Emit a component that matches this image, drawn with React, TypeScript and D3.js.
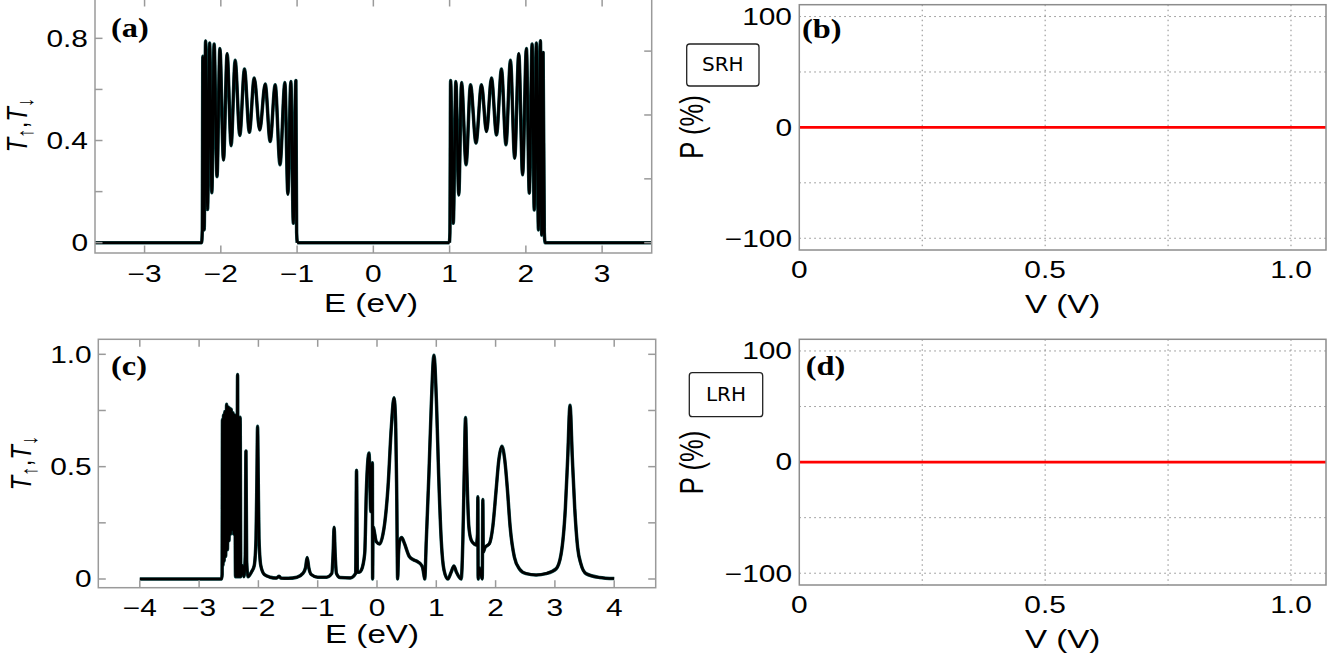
import React from 'react';
import * as d3 from 'd3';

// ---------------- data ----------------
// Panel (a): transmission T(E) (spin up / down coincide)
const bandA_left: [number, number][] = [
  [-3.65, 0], [-2.252, 0], [-2.243, 0.05], [-2.236, 0.73], [-2.218, 0.05], [-2.2, 0.79],
  [-2.174, 0.13], [-2.147, 0.782], [-2.118, 0.196], [-2.088, 0.778], [-2.05, 0.259],
  [-2.012, 0.76], [-1.965, 0.324], [-1.917, 0.74], [-1.865, 0.38], [-1.812, 0.714],
  [-1.751, 0.42], [-1.69, 0.68], [-1.626, 0.432], [-1.562, 0.645], [-1.49, 0.441],
  [-1.418, 0.621], [-1.353, 0.396], [-1.287, 0.618], [-1.224, 0.305], [-1.16, 0.627],
  [-1.121, 0.19], [-1.082, 0.631], [-1.049, 0.076], [-1.016, 0.635], [-1.006, 0.04], [-0.998, 0],
];
const bandA_right: [number, number][] = [
  [0.998, 0], [1.004, 0.04], [1.013, 0.635], [1.048, 0.076], [1.082, 0.631], [1.12, 0.187],
  [1.157, 0.627], [1.216, 0.305], [1.274, 0.618], [1.346, 0.39], [1.418, 0.618],
  [1.484, 0.435], [1.549, 0.645], [1.615, 0.422], [1.68, 0.68], [1.739, 0.383],
  [1.798, 0.714], [1.853, 0.331], [1.907, 0.74], [1.957, 0.266], [2.007, 0.76],
  [2.045, 0.194], [2.082, 0.778], [2.11, 0.128], [2.138, 0.782], [2.165, 0.05],
  [2.191, 0.791], [2.208, 0.03], [2.226, 0.745], [2.242, 0.04], [2.252, 0], [3.65, 0],
];
const gapA: [number, number][] = [[-0.998, 0], [0.998, 0]];

// Panel (c): transmission T(E)
const curveC: [number, number][] = [
  [-4.0, 0], [-2.62, 0], [-2.612, 0.02], [-2.606, 0.71], [-2.598, 0.06], [-2.588, 0.73],
  [-2.578, 0.08], [-2.566, 0.745], [-2.552, 0.1], [-2.536, 0.778], [-2.522, 0.13],
  [-2.508, 0.765], [-2.496, 0.17], [-2.482, 0.76], [-2.47, 0.2], [-2.458, 0.755],
  [-2.444, 0.22], [-2.428, 0.74], [-2.414, 0.2], [-2.4, 0.73], [-2.386, 0.01],
  [-2.374, 0.73], [-2.364, 0.01], [-2.351, 0.91], [-2.342, 0.01], [-2.33, 0.72],
  [-2.32, 0.01], [-2.308, 0.72], [-2.296, 0.01], [-2.27, 0.06], [-2.245, 0.01],
  [-2.222, 0.1], [-2.21, 0.57], [-2.198, 0.08], [-2.175, 0.01], [-2.12, 0.03],
  [-2.07, 0.06], [-2.04, 0.18], [-2.025, 0.45], [-2.014, 0.68], [-2.003, 0.45],
  [-1.99, 0.18], [-1.96, 0.06], [-1.9, 0.02], [-1.8, 0.008], [-1.7, 0.004], [-1.65, 0.012],
  [-1.62, 0.004], [-1.5, 0.003], [-1.35, 0.008], [-1.25, 0.025], [-1.205, 0.05],
  [-1.178, 0.096], [-1.15, 0.05], [-1.11, 0.02], [-1.0, 0.008], [-0.85, 0.008],
  [-0.762, 0.025], [-0.74, 0.114], [-0.723, 0.23], [-0.706, 0.114], [-0.684, 0.025],
  [-0.628, 0.007], [-0.45, 0.005], [-0.36, 0.025], [-0.345, 0.484], [-0.33, 0.03],
  [-0.3, 0.03], [-0.263, 0.04], [-0.207, 0.114], [-0.179, 0.396], [-0.134, 0.561],
  [-0.105, 0.3], [-0.09, 0.4], [-0.078, 0.517], [-0.074, 0.0], [-0.067, 0.233],
  [-0.011, 0.166], [0.045, 0.156], [0.101, 0.2], [0.13, 0.248], [0.186, 0.41],
  [0.242, 0.677], [0.287, 0.807], [0.315, 0.69], [0.332, 0.396], [0.348, 0.0],
  [0.363, 0.114], [0.385, 0.173], [0.416, 0.185], [0.46, 0.16], [0.545, 0.1],
  [0.62, 0.085], [0.685, 0.077], [0.74, 0.065], [0.77, 0.05], [0.79, 0.02], [0.805, 0.0],
  [0.831, 0.17], [0.876, 0.47], [0.915, 0.77], [0.96, 0.996], [1.005, 0.77],
  [1.039, 0.47], [1.084, 0.17], [1.13, 0.04], [1.195, 0.0], [1.25, 0.03], [1.297, 0.058],
  [1.34, 0.03], [1.42, 0.0], [1.448, 0.173], [1.471, 0.47], [1.493, 0.719], [1.516, 0.47],
  [1.549, 0.233], [1.589, 0.173], [1.645, 0.155], [1.673, 0.151], [1.695, 0.2],
  [1.701, 0.366], [1.706, 0.0], [1.725, 0.05], [1.745, 0.03], [1.775, 0.0], [1.785, 0.354],
  [1.792, 0.12], [1.82, 0.14], [1.897, 0.158], [1.953, 0.233], [2.009, 0.396],
  [2.054, 0.529], [2.105, 0.591], [2.155, 0.529], [2.2, 0.396], [2.245, 0.233],
  [2.318, 0.096], [2.402, 0.045], [2.514, 0.024], [2.683, 0.018], [2.851, 0.024],
  [3.02, 0.045], [3.104, 0.11], [3.177, 0.317], [3.216, 0.539], [3.255, 0.773],
  [3.294, 0.539], [3.334, 0.317], [3.384, 0.14], [3.44, 0.066], [3.524, 0.024],
  [3.749, 0.007], [4.0, 0.002],
];

// Panels (b), (d): spin polarization vs bias
const biasV = [0, 0.25, 0.5, 0.75, 1.0, 1.0712];
const polSRH = [0, 0, 0, 0, 0, 0];
const polLRH = [0, 0, 0, 0, 0, 0];

// ticks
const ticksA_x = [-3, -2, -1, 0, 1, 2, 3];
const ticksA_yLeft = [0, 0.2, 0.4, 0.6, 0.8];
const ticksA_yRight = [0, 0.25, 0.5, 0.75];
const labelsA_y = [0, 0.4, 0.8];
const labelTextA_y = ['0', '0.4', '0.8'];

const ticksC_x = [-4, -3, -2, -1, 0, 1, 2, 3, 4];
const ticksC_y = [0, 0.25, 0.5, 0.75, 1.0];
const labelsC_y = [0, 0.5, 1.0];
const labelTextC_y = ['0', '0.5', '1.0'];

const gridP_x = [0.25, 0.5, 0.75, 1.0];
const gridP_y = [-100, -50, 50, 100];
const labelsP_x = [0, 0.5, 1.0];
const labelTextP_x = ['0', '0.5', '1.0'];
const labelsP_y = [-100, 0, 100];
const labelTextP_y = ['\u2212100', '0', '100'];

// ---------------- styling ----------------
const SX = 1.3;
const SANS = "'Liberation Sans', Arial, Helvetica, sans-serif";
const SERIF = "'Liberation Serif', 'Times New Roman', serif";
const AXIS = '#9a9a9a';
const TICK_FS = 23;
const LABEL_FS = 25.5;

const fmtE = (v: number) => (v < 0 ? '\u2212' + Math.abs(v) : String(v));

function SText(props: {
  x: number; y: number; size: number; anchor?: string; family?: string;
  weight?: string; rotate?: boolean; children: React.ReactNode; sx?: number;
}) {
  const { x, y, size, anchor = 'middle', family = SANS, weight = 'normal', rotate = false, children, sx = SX } = props;
  return (
    <text
      transform={`translate(${x},${y}) scale(${sx},1)${rotate ? ' rotate(-90)' : ''}`}
      fontSize={size}
      fontFamily={family}
      fontWeight={weight}
      textAnchor={anchor}
      fill="#000"
    >
      {children}
    </text>
  );
}

function TLabel({ x, y }: { x: number; y: number }) {
  return (
    <SText x={x} y={y} size={24} rotate sx={1.22}>
      <tspan fontStyle="italic">T</tspan>
      <tspan fontSize={19} dy={5}>{'\u2191'}</tspan>
      <tspan dy={-5}>,</tspan>
      <tspan fontStyle="italic">T</tspan>
      <tspan fontSize={19} dy={5}>{'\u2193'}</tspan>
    </SText>
  );
}

interface TransProps {
  box: { l: number; r: number; t: number; b: number };
  xDomain: [number, number];
  yDomain: [number, number];
  xTicks: number[];
  yTicksLeft: number[];
  yTicksRight: number[];
  yLabelVals: number[];
  yLabelTexts: string[];
  yLabelRight: number;
  series: [number, number][][];
  letter: string;
  letterPos: [number, number];
  ylabelPos: [number, number];
  xlabelPos: [number, number];
}

function TransPanel(p: TransProps) {
  const { box } = p;
  const xs = d3.scaleLinear().domain(p.xDomain).range([box.l, box.r]);
  const ys = d3.scaleLinear().domain(p.yDomain).range([box.b, box.t]);
  const line = d3
    .line<[number, number]>()
    .x((d) => xs(d[0]))
    .y((d) => ys(d[1]))
    .curve(d3.curveMonotoneX);
  const tl = 7.5;
  return (
    <g>
      {p.series.map((s, i) => (
        <path key={'u' + i} d={line(s) || ''} fill="none" stroke="#0f4a4a" strokeWidth={3.5} strokeLinejoin="round" />
      ))}
      {p.series.map((s, i) => (
        <path key={'d' + i} d={line(s) || ''} fill="none" stroke="#000" strokeWidth={2.6} strokeLinejoin="round" />
      ))}
      <rect x={box.l} y={box.t} width={box.r - box.l} height={box.b - box.t} fill="none" stroke={AXIS} strokeWidth={1.5} />
      {p.xTicks.map((v) => (
        <g key={'xt' + v}>
          <line x1={xs(v)} x2={xs(v)} y1={box.b} y2={box.b - tl} stroke={AXIS} strokeWidth={1.5} />
          <line x1={xs(v)} x2={xs(v)} y1={box.t} y2={box.t + tl} stroke={AXIS} strokeWidth={1.5} />
          <SText x={xs(v)} y={box.b + 28.7} size={TICK_FS}>{fmtE(v)}</SText>
        </g>
      ))}
      {p.yTicksLeft.map((v) => (
        <line key={'yl' + v} x1={box.l} x2={box.l + tl} y1={ys(v)} y2={ys(v)} stroke={AXIS} strokeWidth={1.5} />
      ))}
      {p.yTicksRight.map((v) => (
        <line key={'yr' + v} x1={box.r} x2={box.r - tl} y1={ys(v)} y2={ys(v)} stroke={AXIS} strokeWidth={1.5} />
      ))}
      {p.yLabelVals.map((v, i) => (
        <SText key={'ylab' + v} x={p.yLabelRight} y={ys(v) + 8.3} size={TICK_FS} anchor="end">
          {p.yLabelTexts[i]}
        </SText>
      ))}
      <SText x={p.letterPos[0]} y={p.letterPos[1]} size={27} anchor="start" family={SERIF} weight="bold" sx={1.2}>
        {p.letter}
      </SText>
      <TLabel x={p.ylabelPos[0]} y={p.ylabelPos[1]} />
      <SText x={p.xlabelPos[0]} y={p.xlabelPos[1]} size={LABEL_FS}>E (eV)</SText>
    </g>
  );
}

interface PolProps {
  box: { l: number; r: number; t: number; b: number };
  yDomain: [number, number];
  values: number[];
  letter: string;
  letterPos: [number, number];
  legend: string;
  legendBox: [number, number, number, number];
  legendBaseline: number;
  ylabelPos: [number, number];
  xlabelY: number;
}

function PolPanel(p: PolProps) {
  const { box } = p;
  const xs = d3.scaleLinear().domain([0, 1.0712]).range([box.l, box.r]);
  const ys = d3.scaleLinear().domain(p.yDomain).range([box.b, box.t]);
  const line = d3
    .line<number>()
    .x((_, i) => xs(biasV[i]))
    .y((d) => ys(d));
  const [lx, ly, lw, lh] = p.legendBox;
  return (
    <g>
      {gridP_x.map((v) => (
        <line key={'gx' + v} x1={xs(v)} x2={xs(v)} y1={box.t} y2={box.b} stroke="#8a8a8a" strokeWidth={1} strokeDasharray="1.5,3.5" />
      ))}
      {gridP_y.map((v) => (
        <line key={'gy' + v} x1={box.l} x2={box.r} y1={ys(v)} y2={ys(v)} stroke="#8a8a8a" strokeWidth={1} strokeDasharray="1.5,3.5" />
      ))}
      <path d={line(p.values) || ''} fill="none" stroke="#ff0000" strokeWidth={2.6} />
      <rect x={box.l} y={box.t} width={box.r - box.l} height={box.b - box.t} fill="none" stroke="#8c8c8c" strokeWidth={1.5} />
      {labelsP_x.map((v, i) => (
        <SText key={'xl' + v} x={xs(v)} y={box.b + 28.3} size={TICK_FS}>{labelTextP_x[i]}</SText>
      ))}
      {labelsP_y.map((v, i) => (
        <SText key={'yl' + v} x={792} y={ys(v) + 8.3} size={TICK_FS} anchor="end">{labelTextP_y[i]}</SText>
      ))}
      <SText x={p.letterPos[0]} y={p.letterPos[1]} size={27} anchor="start" family={SERIF} weight="bold" sx={1.2}>
        {p.letter}
      </SText>
      <rect x={lx} y={ly} width={lw} height={lh} rx={3} ry={3} fill="#fff" stroke="#222" strokeWidth={1.3} />
      <text x={lx + lw / 2} y={p.legendBaseline} fontSize={20} fontFamily="'DejaVu Sans', sans-serif" textAnchor="middle" fill="#000">
        {p.legend}
      </text>
      <SText x={p.ylabelPos[0]} y={p.ylabelPos[1]} size={LABEL_FS} rotate>P (%)</SText>
      <SText x={(box.l + box.r) / 2} y={p.xlabelY} size={LABEL_FS}>V (V)</SText>
    </g>
  );
}

export default function App() {
  return (
    <svg
      width={1328}
      height={654}
      viewBox="0 0 1328 654"
      style={{ position: 'absolute', left: 0, top: 0, background: '#fff' }}
    >
      <rect x={0} y={0} width={1328} height={654} fill="#fff" />
      <TransPanel
        box={{ l: 95, r: 651.7, t: -1, b: 253 }}
        xDomain={[-3.65, 3.65]}
        yDomain={[-0.0403, 0.954]}
        xTicks={ticksA_x}
        yTicksLeft={ticksA_yLeft}
        yTicksRight={ticksA_yRight}
        yLabelVals={labelsA_y}
        yLabelTexts={labelTextA_y}
        yLabelRight={88}
        series={[bandA_left, gapA, bandA_right]}
        letter="(a)"
        letterPos={[111, 37]}
        ylabelPos={[27, 125]}
        xlabelPos={[371, 311.7]}
      />
      <TransPanel
        box={{ l: 98.3, r: 655.7, t: 339.3, b: 587.7 }}
        xDomain={[-4.7, 4.7]}
        yDomain={[-0.0387, 1.0668]}
        xTicks={ticksC_x}
        yTicksLeft={ticksC_y}
        yTicksRight={ticksC_y}
        yLabelVals={labelsC_y}
        yLabelTexts={labelTextC_y}
        yLabelRight={91.7}
        series={[curveC]}
        letter="(c)"
        letterPos={[111, 375]}
        ylabelPos={[30.5, 463]}
        xlabelPos={[372, 643.3]}
      />
      <PolPanel
        box={{ l: 799.3, r: 1326, t: 4.7, b: 250 }}
        yDomain={[-110.6, 110.7]}
        values={polSRH}
        letter="(b)"
        letterPos={[802, 37.5]}
        legend="SRH"
        legendBox={[686.7, 44, 72.3, 42]}
        legendBaseline={70.7}
        ylabelPos={[703.3, 127]}
        xlabelY={313}
      />
      <PolPanel
        box={{ l: 799.3, r: 1326, t: 339.3, b: 585 }}
        yDomain={[-110.6, 110.5]}
        values={polLRH}
        letter="(d)"
        letterPos={[805.7, 375]}
        legend="LRH"
        legendBox={[689.3, 372.7, 73.4, 44]}
        legendBaseline={400.7}
        ylabelPos={[703.3, 462.5]}
        xlabelY={648}
      />
    </svg>
  );
}
